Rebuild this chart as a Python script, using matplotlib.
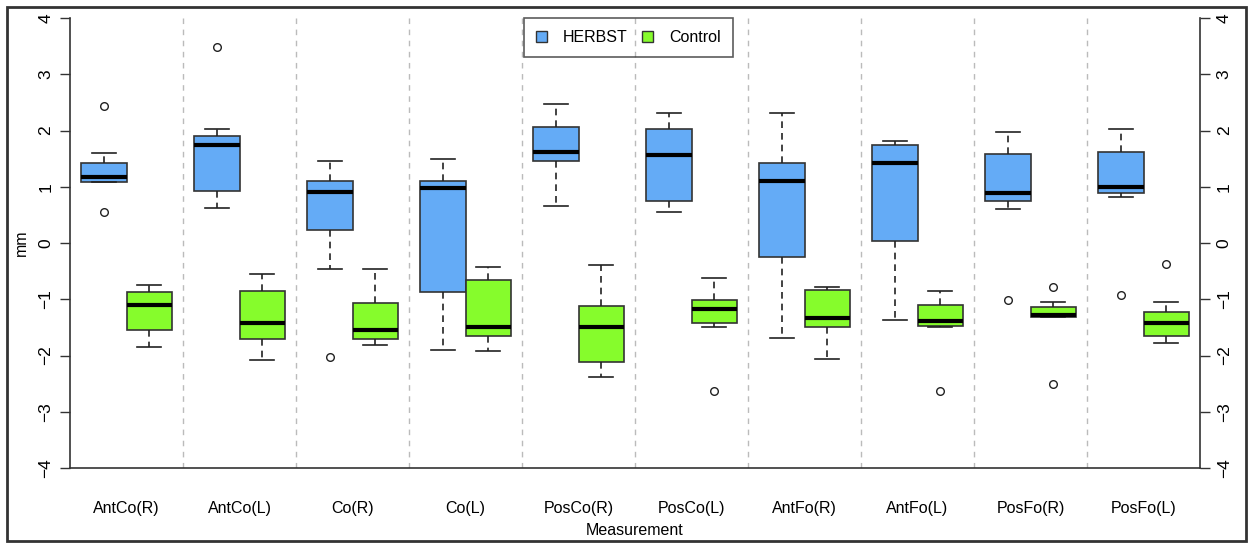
import matplotlib
matplotlib.use("Agg")
import matplotlib.pyplot as plt
from matplotlib.patches import Patch, Rectangle
from matplotlib import rcParams

rcParams.update({
    "font.family": ["Liberation Sans", "DejaVu Sans"],
    "font.size": 11,
})

GROUPS = ["AntCo(R)", "AntCo(L)", "Co(R)", "Co(L)", "PosCo(R)",
          "PosCo(L)", "AntFo(R)", "AntFo(L)", "PosFo(R)", "PosFo(L)"]

# HERBST box stats
herbst_whislo = [1.09, 0.63, -0.46, -1.90, 0.65, 0.55, -1.68, -1.36, 0.60, 0.81]
herbst_q1     = [1.09, 0.93, 0.23, -0.87, 1.45, 0.75, -0.24, 0.03, 0.74, 0.89]
herbst_med    = [1.18, 1.75, 0.91, 0.98, 1.61, 1.56, 1.10, 1.42, 0.89, 1.00]
herbst_q3     = [1.42, 1.91, 1.10, 1.11, 2.06, 2.03, 1.42, 1.75, 1.59, 1.62]
herbst_whishi = [1.60, 2.03, 1.45, 1.50, 2.48, 2.31, 2.31, 1.82, 1.97, 2.03]
herbst_fliers = [[2.43, 0.56], [3.49], [-2.03], [], [], [], [], [], [-1.02], [-0.92]]

# Control box stats
control_whislo = [-1.85, -2.08, -1.81, -1.92, -2.38, -1.50, -2.06, -1.50, -1.32, -1.77]
control_q1     = [-1.54, -1.71, -1.70, -1.66, -2.11, -1.43, -1.49, -1.48, -1.32, -1.66]
control_med    = [-1.11, -1.43, -1.54, -1.49, -1.50, -1.17, -1.33, -1.39, -1.28, -1.43]
control_q3     = [-0.87, -0.85, -1.06, -0.66, -1.12, -1.01, -0.84, -1.10, -1.14, -1.22]
control_whishi = [-0.74, -0.55, -0.46, -0.42, -0.39, -0.62, -0.78, -0.85, -1.05, -1.05]
control_fliers = [[], [], [], [], [], [-2.63], [], [-2.63], [-0.78, -2.51], [-0.37]]

HERBST_COLOR = "#64ABF6"
CONTROL_COLOR = "#86FC2C"


def make_stats(whislo, q1, med, q3, whishi, fliers):
    return [dict(whislo=a, q1=b, med=c, q3=d, whishi=e, fliers=f)
            for a, b, c, d, e, f in zip(whislo, q1, med, q3, whishi, fliers)]


def draw_boxes(ax, stats, positions, color):
    ax.bxp(
        stats, positions=positions, widths=0.4, capwidths=0.21,
        patch_artist=True, showfliers=True, manage_ticks=False,
        boxprops=dict(facecolor=color, edgecolor="#333333", linewidth=1.2),
        medianprops=dict(color="black", linewidth=3, solid_capstyle="butt"),
        whiskerprops=dict(color="#222222", linewidth=1.2, linestyle=(0, (4, 3))),
        capprops=dict(color="#222222", linewidth=1.2),
        flierprops=dict(marker="o", markersize=5.5, markerfacecolor="none",
                        markeredgecolor="#222222", markeredgewidth=1.0),
        zorder=3,
    )


fig = plt.figure(figsize=(12.53, 5.44), dpi=100)
ax = fig.add_axes([70 / 1253, 1 - 468 / 544, 1130 / 1253, 450 / 544])

n = len(GROUPS)
draw_boxes(ax, make_stats(herbst_whislo, herbst_q1, herbst_med, herbst_q3,
                          herbst_whishi, herbst_fliers),
           [i - 0.2 for i in range(n)], HERBST_COLOR)
draw_boxes(ax, make_stats(control_whislo, control_q1, control_med, control_q3,
                          control_whishi, control_fliers),
           [i + 0.2 for i in range(n)], CONTROL_COLOR)

# group separators
for i in range(n - 1):
    ax.axvline(i + 0.5, color="#BBBBBB", linewidth=1.0,
               linestyle=(0, (4, 4)), zorder=1)

ax.set_xlim(-0.5, n - 0.5)
ax.set_ylim(-4, 4)
ax.set_xticks(range(n))
ax.set_xticklabels(GROUPS)
ax.tick_params(axis="x", length=0, pad=24, labelsize=11.5)
ax.set_yticks(range(-4, 5))
ax.tick_params(axis="y", left=True, right=True, labelleft=True, labelright=True,
               length=7, width=1, color="#333333", pad=5,
               labelrotation=90, labelsize=12.5)
for lab in ax.yaxis.get_ticklabels(which="major"):
    lab.set_va("center")

ax.spines["top"].set_visible(False)
for s in ["left", "right", "bottom"]:
    ax.spines[s].set_color("#333333")
    ax.spines[s].set_linewidth(1.2)

ax.set_xlabel("Measurement", labelpad=5, fontsize=11.5)
ax.set_ylabel("mm", labelpad=7, fontsize=11.5)

handles = [Patch(facecolor=HERBST_COLOR, edgecolor="#333333", label="HERBST"),
           Patch(facecolor=CONTROL_COLOR, edgecolor="#333333", label="Control")]
leg = ax.legend(handles=handles, loc="upper center", bbox_to_anchor=(0.494, 1.0),
                ncol=2, frameon=True, fancybox=False, borderaxespad=0,
                handlelength=0.7, handleheight=0.7, handletextpad=1.0,
                columnspacing=0.9, borderpad=0.75, fontsize=11.5)
leg.get_frame().set_facecolor("none")
leg.get_frame().set_edgecolor("#333333")
leg.get_frame().set_linewidth(1.2)

# outer figure border
fig.patches.append(Rectangle((7 / 1253, 3 / 544), 1239 / 1253, 534 / 544,
                             transform=fig.transFigure, fill=False,
                             edgecolor="#333333", linewidth=2))

fig.savefig("out.png", dpi=100)
